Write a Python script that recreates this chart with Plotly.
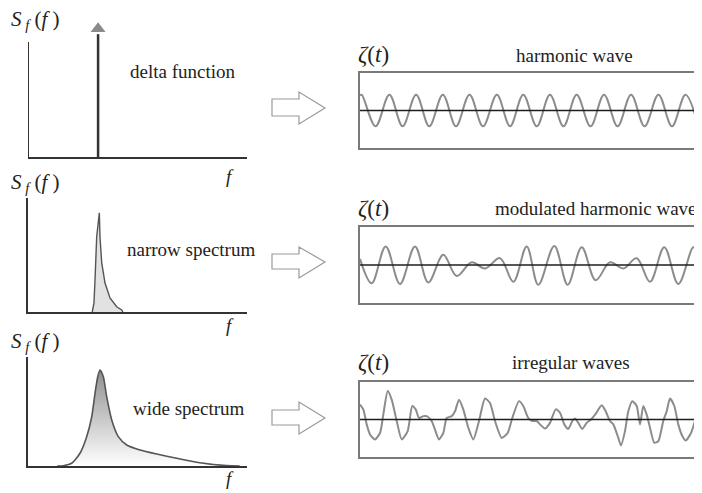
import plotly.graph_objects as go

# ---------------- data ----------------
# spectra (frequency in arbitrary units 0..3, spectral density normalised 0..1)
delta_freq = [0.96, 0.96]
delta_level = [0.0, 0.91]
delta_tip = [0.95]

narrow_freq = [0.88, 0.886, 0.904, 0.918, 0.941, 0.977, 0.986, 1.01, 1.055, 1.123, 1.215, 1.284, 1.30]
narrow_dens = [0.0, 0.018, 0.079, 0.28, 0.66, 0.87, 0.66, 0.43, 0.254, 0.123, 0.046, 0.018, 0.0]

wide_freq = [0.40, 0.484, 0.599, 0.712, 0.804, 0.873, 0.918, 0.955, 0.986, 1.032, 1.078,
             1.147, 1.237, 1.352, 1.534, 1.763, 2.037, 2.356, 2.721, 2.90]
wide_dens = [0.0, 0.003, 0.025, 0.117, 0.269, 0.452, 0.667, 0.819, 0.881, 0.819, 0.636,
             0.422, 0.269, 0.193, 0.147, 0.110, 0.071, 0.030, 0.003, 0.0]

# time records (time 0..100, elevation normalised -1..1)
harm_t = [0.0, 0.5, 4.6, 8.7, 12.6, 16.6, 20.5, 24.5, 28.4, 32.4, 36.4, 40.5, 44.4, 48.3,
          52.3, 56.2, 60.2, 64.1, 68.2, 72.2, 76.2, 80.2, 84.2, 88.3, 92.3, 96.3, 100.0]
harm_z = [0.40, 0.42, -0.42, 0.42, -0.42, 0.42, -0.42, 0.42, -0.42, 0.42, -0.42, 0.42, -0.42, 0.42,
          -0.42, 0.42, -0.42, 0.42, -0.42, 0.42, -0.42, 0.42, -0.42, 0.42, -0.42, 0.42, -0.38]

mod_t = [0.0, 3.46, 7.60, 11.83, 16.27, 20.21, 24.64, 28.61, 33.05, 36.98, 41.42, 45.36, 49.32,
         52.75, 57.49, 61.45, 65.59, 69.73, 73.96, 77.90, 81.86, 85.80, 90.03, 94.17, 98.61, 100.0]
mod_z = [0.16, -0.48, 0.49, -0.50, 0.49, -0.46, 0.27, -0.29, 0.07, -0.09, 0.18, -0.44, 0.49,
         -0.52, 0.50, -0.52, 0.47, -0.40, 0.07, -0.09, 0.18, -0.44, 0.47, -0.50, 0.47, 0.05]

irr_t = [0.0, 0.98, 1.98, 2.96, 4.44, 5.92, 6.89, 8.20, 9.38, 10.86, 12.34, 14.11, 15.47, 16.48,
         17.46, 18.73, 19.73, 21.21, 22.19, 23.37, 24.64, 25.65, 27.13, 28.11, 29.29, 30.56,
         32.04, 33.52, 35.21, 36.98, 38.46, 39.94, 41.92, 43.70, 45.06, 47.04, 48.31, 49.79,
         50.98, 52.28, 53.25, 54.73, 56.21, 57.90, 59.17, 60.44, 61.63, 62.81, 63.61, 64.59,
         65.77, 67.07, 68.34, 69.73, 71.51, 72.69, 73.96, 74.94, 76.24, 77.22, 78.40, 79.38,
         80.56, 81.86, 82.84, 83.82, 84.82, 85.80, 87.07, 88.25, 89.73, 90.74, 91.72, 92.99,
         94.17, 95.36, 96.36, 97.93, 99.11, 100.0]
irr_z = [0.40, 0.27, -0.13, -0.40, -0.53, -0.36, 0.13, 0.76, 0.53, -0.04, -0.53, -0.31, 0.36, 0.27,
         0.04, 0.09, 0.09, -0.04, -0.27, -0.53, -0.36, 0.04, 0.09, 0.22, 0.53, 0.27,
         -0.22, -0.53, -0.04, 0.56, 0.44, -0.04, -0.49, -0.36, 0.04, 0.49, 0.36, 0.04,
         -0.04, -0.04, -0.13, -0.24, -0.09, 0.27, 0.18, -0.13, -0.25, -0.04, 0.03, -0.09,
         -0.25, -0.09, 0.0, 0.15, 0.38, 0.22, -0.04, -0.13, -0.44, -0.69, -0.31, 0.22,
         0.49, 0.36, -0.13, 0.36, 0.13, -0.22, -0.62, -0.58, -0.04, 0.22, 0.56, 0.36,
         -0.13, -0.44, -0.56, -0.36, -0.04, 0.18]

spectrum_labels = ["delta function", "narrow spectrum", "wide spectrum"]
wave_labels = ["harmonic wave", "modulated harmonic wave", "irregular waves"]

# ---------------- layout helpers ----------------
# the page body has an 8px margin, so the figure is made 8px smaller and
# positions (given in window pixels) are shifted accordingly
OFF = 8
W, H = 702 - OFF, 493 - OFF
def PX(x):
    return (x - OFF) / W
def PY(y):
    return 1 - (y - OFF) / H

FONT = "Liberation Serif, Times New Roman, serif"
AX = "#333333"
CURVE = "#555555"
WAVE = "#8c8c8c"

fig = go.Figure()

spec_dom = [(22, 157), (198, 312), (357, 466)]
wave_dom = [(73, 148), (227, 303), (382, 457)]

layout = dict(width=W, height=H, margin=dict(l=0, r=0, t=0, b=0),
              paper_bgcolor="white", plot_bgcolor="white", showlegend=False,
              font=dict(family=FONT, color="#222"))

for i, (top, bot) in enumerate(spec_dom):
    n = i + 1
    xa = dict(domain=[PX(28), PX(247)], range=[0, 3], showgrid=False, zeroline=False,
              showticklabels=False, ticks="", showline=True, linecolor=AX, linewidth=2,
              anchor=f"y{n}")
    ya = dict(domain=[PY(bot), PY(top)], range=[0, 1], showgrid=False, zeroline=False,
              showticklabels=False, ticks="", showline=(i > 0), linecolor=AX, linewidth=2,
              anchor=f"x{n}")
    layout[f"xaxis{n}" if n > 1 else "xaxis"] = xa
    layout[f"yaxis{n}" if n > 1 else "yaxis"] = ya

for i, (top, bot) in enumerate(wave_dom):
    n = i + 4
    layout[f"xaxis{n}"] = dict(domain=[PX(360), PX(698)], range=[0, 100], showgrid=False,
                               zeroline=False, showticklabels=False, ticks="", showline=True,
                               mirror=True, linecolor="#7a7a7a", linewidth=1.5, anchor=f"y{n}")
    layout[f"yaxis{n}"] = dict(domain=[PY(bot), PY(top)], range=[-1, 1], showgrid=False,
                               zeroline=False, showticklabels=False, ticks="", showline=True,
                               mirror=True, linecolor="#7a7a7a", linewidth=1.5, anchor=f"x{n}")

fig.update_layout(**layout)

# ---- spectra ----
fig.add_trace(go.Scatter(x=delta_freq, y=delta_level, mode="lines",
                         line=dict(color=AX, width=2.5), xaxis="x", yaxis="y"))
fig.add_trace(go.Scatter(x=delta_freq[:1], y=delta_tip, mode="markers", cliponaxis=False,
                         marker=dict(symbol="triangle-up", size=13, color="#8a8a8a"),
                         xaxis="x", yaxis="y"))
fig.add_trace(go.Scatter(x=narrow_freq, y=narrow_dens, mode="lines", fill="tozeroy",
                         fillcolor="#e2e2e2", line=dict(color=CURVE, width=1.4),
                         xaxis="x2", yaxis="y2"))
fig.add_trace(go.Scatter(x=wide_freq, y=wide_dens, mode="lines", fill="tozeroy",
                         line=dict(color=CURVE, width=1.6, shape="spline", smoothing=0.6),
                         fillgradient=dict(type="vertical",
                                           colorscale=[[0, "#ffffff"], [1, "#8f8f8f"]]),
                         xaxis="x3", yaxis="y3"))

# ---- waves ----
for n, (t, z, sm) in zip([4, 5, 6], [(harm_t, harm_z, 1.0), (mod_t, mod_z, 1.0), (irr_t, irr_z, 0.6)]):
    fig.add_trace(go.Scatter(x=t, y=z, mode="lines",
                             line=dict(color=WAVE, width=2, shape="spline", smoothing=sm),
                             xaxis=f"x{n}", yaxis=f"y{n}"))

shapes = []
shapes.append(dict(type="line", xref="x", yref="y", x0=0, x1=0, y0=0, y1=115 / 135,
                   line=dict(color=AX, width=2)))
for n in [4, 5, 6]:
    shapes.append(dict(type="line", xref=f"x{n} domain", yref=f"y{n}", x0=0, x1=1, y0=0, y1=0,
                       line=dict(color="#1e1e1e", width=1.5), layer="above"))
for (st, sb, ht, hb, tip) in [(99, 116, 92, 124, 108), (254, 269, 247, 278, 262),
                               (410, 425, 402, 434, 418)]:
    pts = [(272, st), (299, st), (299, ht), (325, tip), (299, hb), (299, sb), (272, sb)]
    path = "M " + " L ".join(f"{PX(x):.5f},{PY(y):.5f}" for x, y in pts) + " Z"
    shapes.append(dict(type="path", xref="paper", yref="paper", path=path,
                       line=dict(color="#9a9a9a", width=1.2), fillcolor="white"))
fig.update_layout(shapes=shapes)

ann = []
def text(x, y, s, size, anchor="center"):
    ann.append(dict(x=PX(x), y=PY(y), xref="paper", yref="paper", text=s, showarrow=False,
                    xanchor=anchor, yanchor="middle", font=dict(family=FONT, size=size, color="#222")))

sf = "<i>S</i><sub> <i>f</i></sub> (<i>f</i> )"
for y in [20, 183, 342]:
    text(9, y, sf, 21, "left")
for y in [176, 325, 478]:
    text(230, y, "<i>f</i>", 19)
text(182, 72, spectrum_labels[0], 19)
text(191, 249, spectrum_labels[1], 19)
text(189, 408, spectrum_labels[2], 19)
zt = "<i>ζ</i>(<i>t</i>)"
for y in [55, 208, 362]:
    text(356, y, zt, 23, "left")
text(574, 56, wave_labels[0], 19)
text(699, 208, wave_labels[1], 19, "right")
text(571, 362, wave_labels[2], 19)
fig.update_layout(annotations=ann)

fig.write_html("out.html")
